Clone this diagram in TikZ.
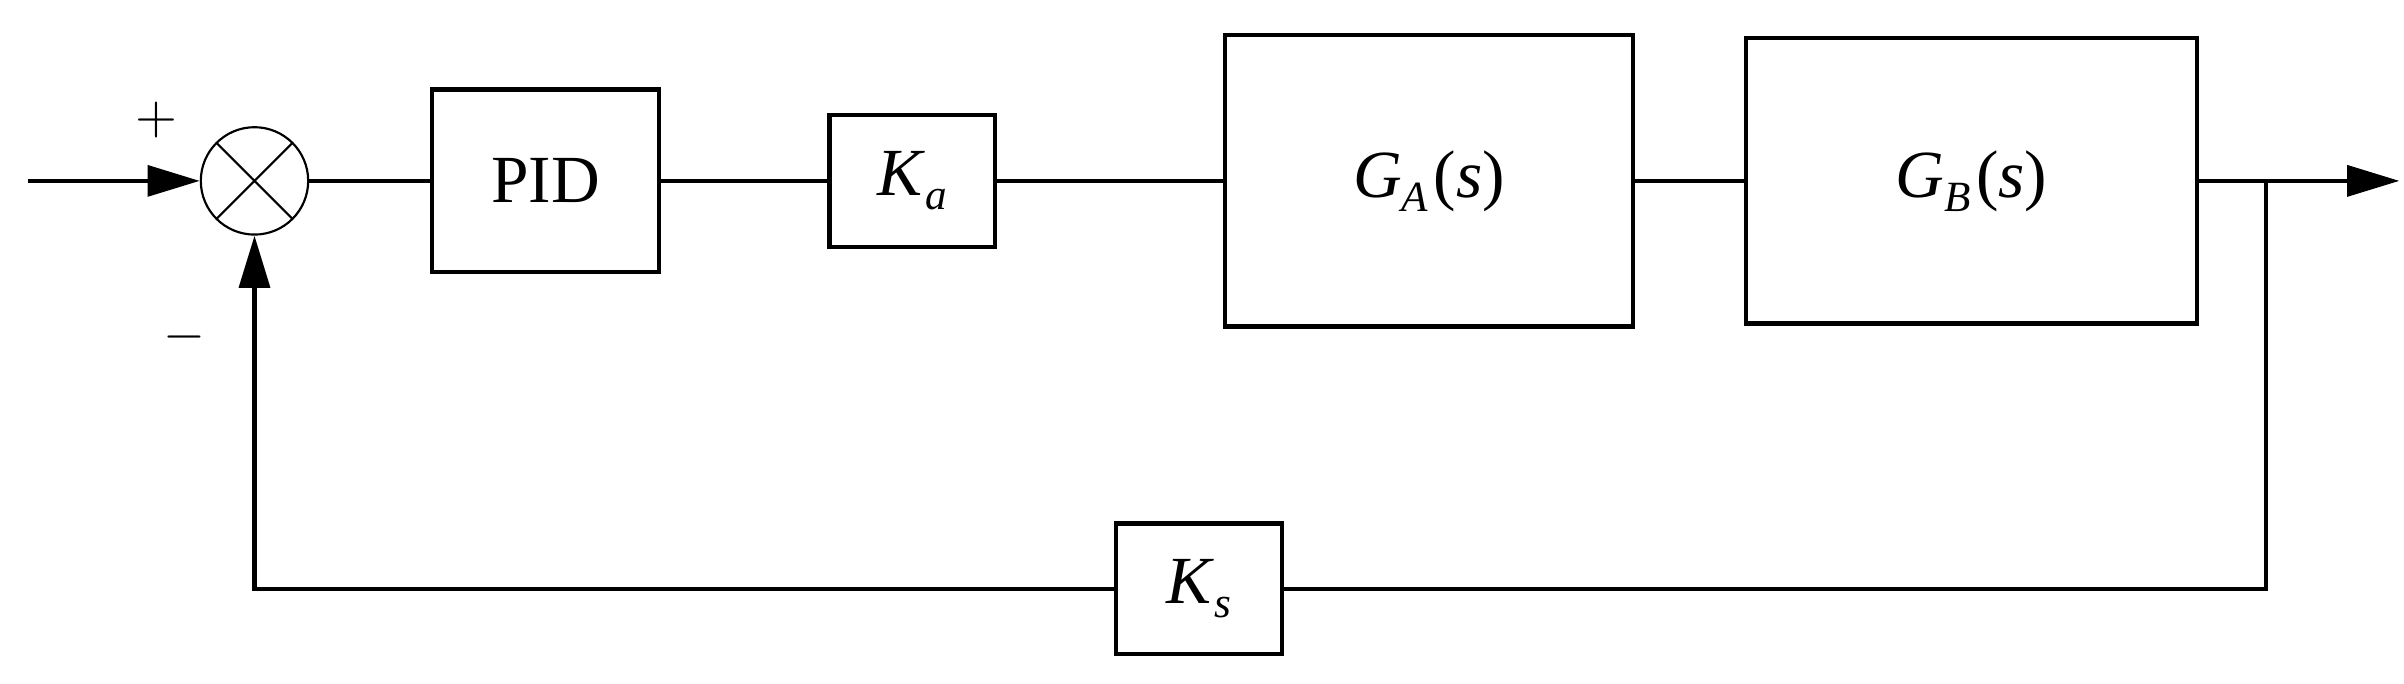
\documentclass[tikz,border=0pt]{standalone}
\usepackage{fontspec}
\setmainfont{Liberation Serif}
\usetikzlibrary{arrows.meta}
\newcommand{\vsub}[2]{\textit{#1}\raisebox{-0.45ex}{\fontsize{8}{9}\selectfont\textit{#2}}}
\begin{document}
\begin{tikzpicture}[x=0.01cm,y=0.01cm,>={Triangle[length=0.34cm,width=0.2cm]},
  block/.style={draw,thick,font=\fontsize{12.5}{14}\selectfont},
  sum/.style={draw,circle,minimum size=0.7cm,inner sep=0pt,
    path picture={\draw (path picture bounding box.south west)--(path picture bounding box.north east)
      (path picture bounding box.north west)--(path picture bounding box.south east);}},
  line/.style={thick}]
  \useasboundingbox (0,0) rectangle (1568,446);

  \node[sum]   (Sum) at (166,328) {};
  \node[block,minimum width=1.48cm,minimum height=1.19cm] (PID) at (356,328) {PID};
  \node[block,minimum width=1.08cm,minimum height=0.86cm] (Ka)  at (595,328) {\vsub{K}{a}};
  \node[block,minimum width=2.66cm,minimum height=1.9cm]  (GA)  at (932,328) {\vsub{G}{A}\kern0.08em(\textit{s})};
  \node[block,minimum width=2.94cm,minimum height=1.86cm] (GB)  at (1286,328) {\vsub{G}{B}\kern0.08em(\textit{s})};
  \node[block,minimum width=1.08cm,minimum height=0.85cm] (Ks)  at (782,62) {\vsub{K}{s}};
  \node at (102,368) {$+$};
  \node at (120,226) {$-$};

  \coordinate (In)     at (18,328);
  \coordinate (Out)    at (1565,328);
  \coordinate (Branch) at (1478,328);
  \coordinate (Corner) at (1478,62);
  \coordinate (Back)   at (166,62);

  \draw[line,->] (In) -- (Sum);
  \draw[line] (Sum) -- (PID) (PID) -- (Ka) (Ka) -- (GA) (GA) -- (GB);
  \draw[line,->] (GB) -- (Out);
  \draw[line] (Branch) -- (Corner) -- (Ks);
  \draw[line,->] (Ks) -- (Back) -- (Sum);
\end{tikzpicture}
\end{document}
